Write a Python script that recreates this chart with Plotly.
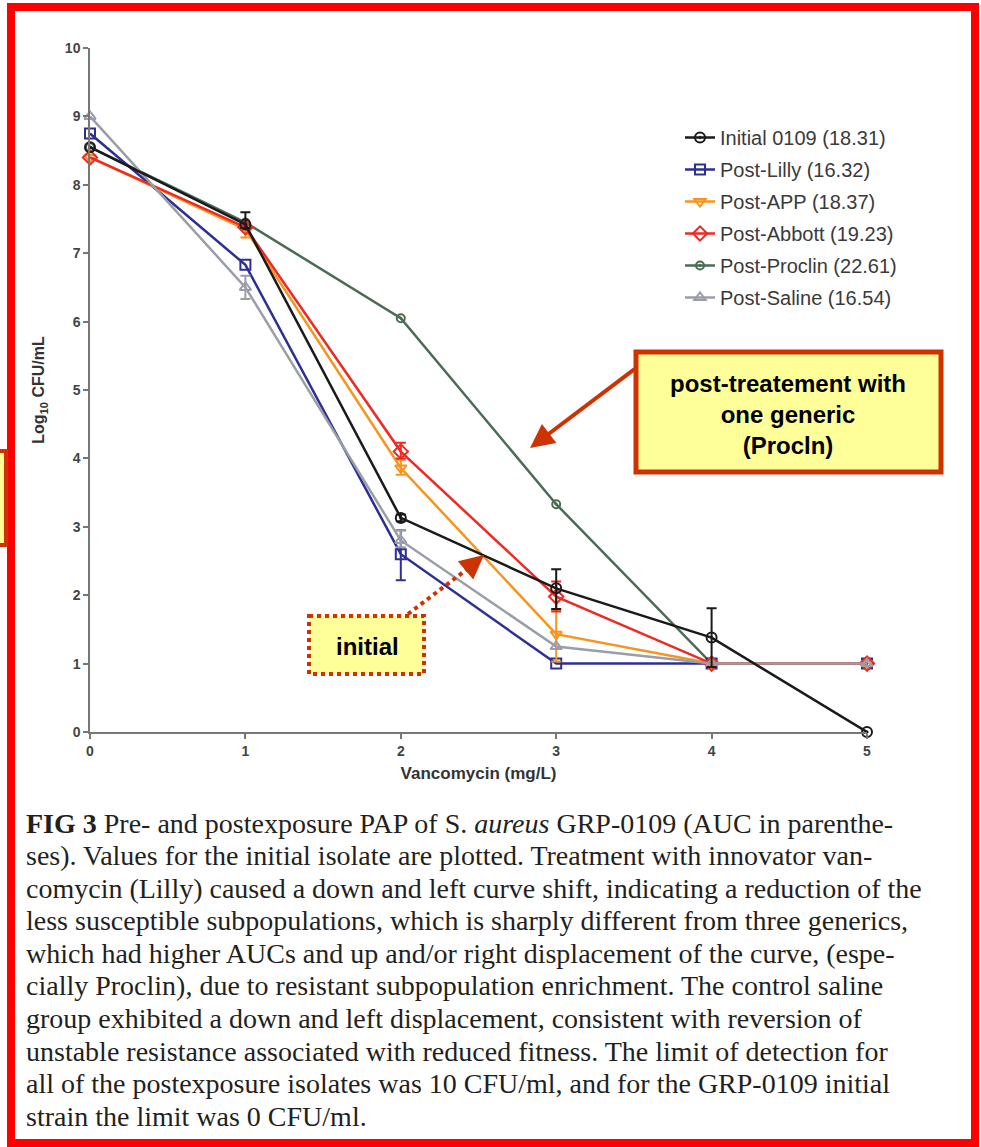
import plotly.graph_objects as go

# ---------------- data ----------------
conc = [0, 1, 2, 3, 4, 5]

series_names = ["Initial 0109 (18.31)", "Post-Lilly (16.32)", "Post-APP (18.37)",
                "Post-Abbott (19.23)", "Post-Proclin (22.61)", "Post-Saline (16.54)"]

initial_vals = [8.55, 7.42, 3.13, 2.10, 1.38, 0.0]
lilly_vals = [8.75, 6.83, 2.60, 1.00, 1.00, 1.00]
app_vals = [8.40, 7.35, 3.86, 1.43, 1.00, 1.00]
abbott_vals = [8.40, 7.38, 4.10, 1.98, 1.00, 1.00]
proclin_vals = [8.55, 7.45, 6.05, 3.33, 1.00, 1.00]
saline_vals = [9.00, 6.50, 2.80, 1.25, 1.00, 1.00]

initial_err_plus = [0, 0.18, 0.05, 0.28, 0.43, 0]
initial_err_minus = [0, 0.05, 0.05, 0.30, 0.43, 0]
lilly_err_plus = [0, 0, 0.35, 0, 0, 0]
lilly_err_minus = [0, 0, 0.38, 0, 0, 0]
app_err_plus = [0, 0, 0.12, 0.35, 0, 0]
app_err_minus = [0, 0.12, 0.10, 0.40, 0, 0]
abbott_err_plus = [0, 0, 0.13, 0.22, 0, 0]
abbott_err_minus = [0, 0, 0.10, 0.22, 0, 0]
proclin_err_plus = [0, 0, 0, 0, 0, 0]
proclin_err_minus = [0, 0, 0, 0, 0, 0]
saline_err_plus = [0, 0.17, 0.15, 0, 0, 0]
saline_err_minus = [0, 0.17, 0.10, 0, 0, 0]

y_ticks = [0, 1, 2, 3, 4, 5, 6, 7, 8, 9, 10]
x_ticks = [0, 1, 2, 3, 4, 5]

caption_lines = [
    "<b>FIG 3</b> Pre- and postexposure PAP of S. <i>aureus</i> GRP-0109 (AUC in parenthe-",
    "ses). Values for the initial isolate are plotted. Treatment with innovator van-",
    "comycin (Lilly) caused a down and left curve shift, indicating a reduction of the",
    "less susceptible subpopulations, which is sharply different from three generics,",
    "which had higher AUCs and up and/or right displacement of the curve, (espe-",
    "cially Proclin), due to resistant subpopulation enrichment. The control saline",
    "group exhibited a down and left displacement, consistent with reversion of",
    "unstable resistance associated with reduced fitness. The limit of detection for",
    "all of the postexposure isolates was 10 CFU/ml, and for the GRP-0109 initial",
    "strain the limit was 0 CFU/ml.",
]

# ---------------- styling ----------------
W, H = 981, 1147
L, R, T, B = 90, 867, 48, 732  # plot area pixels


def px(x):
    return (x - L) / (R - L)


def py(y):
    return (B - y) / (B - T)


styles = {
    "Initial 0109 (18.31)": dict(color="#1a1a1a", symbol="circle-open-dot", size=10),
    "Post-Lilly (16.32)": dict(color="#2e2f96", symbol="square-open", size=10),
    "Post-APP (18.37)": dict(color="#f7941d", symbol="triangle-down-open", size=10),
    "Post-Abbott (19.23)": dict(color="#ee2a24", symbol="diamond-open", size=11),
    "Post-Proclin (22.61)": dict(color="#4b6b55", symbol="circle-open-dot", size=8),
    "Post-Saline (16.54)": dict(color="#9a9ea8", symbol="triangle-up-open", size=10),
}

data = {
    "Initial 0109 (18.31)": (initial_vals, initial_err_plus, initial_err_minus),
    "Post-Lilly (16.32)": (lilly_vals, lilly_err_plus, lilly_err_minus),
    "Post-APP (18.37)": (app_vals, app_err_plus, app_err_minus),
    "Post-Abbott (19.23)": (abbott_vals, abbott_err_plus, abbott_err_minus),
    "Post-Proclin (22.61)": (proclin_vals, proclin_err_plus, proclin_err_minus),
    "Post-Saline (16.54)": (saline_vals, saline_err_plus, saline_err_minus),
}

draw_order = ["Post-Proclin (22.61)", "Post-Lilly (16.32)", "Post-APP (18.37)",
              "Post-Abbott (19.23)", "Post-Saline (16.54)", "Initial 0109 (18.31)"]

fig = go.Figure()

for name in draw_order:
    vals, ep, em = data[name]
    st = styles[name]
    # error bars only where present
    ex = [c for c, a, b in zip(conc, ep, em) if a > 0 or b > 0]
    ey = [v for v, a, b in zip(vals, ep, em) if a > 0 or b > 0]
    eplus = [a for a, b in zip(ep, em) if a > 0 or b > 0]
    eminus = [b for a, b in zip(ep, em) if a > 0 or b > 0]
    if ex:
        fig.add_trace(go.Scatter(
            x=ex, y=ey, mode="markers", showlegend=False, hoverinfo="skip",
            marker=dict(size=2, opacity=0),
            error_y=dict(type="data", symmetric=False, array=eplus, arrayminus=eminus,
                         color=st["color"], thickness=2, width=5),
            cliponaxis=False,
        ))
    fig.add_trace(go.Scatter(
        x=conc, y=vals, mode="lines+markers", name=name,
        legendrank=series_names.index(name) + 1,
        legendgroup=name,
        line=dict(color=st["color"], width=2.5),
        marker=dict(symbol=st["symbol"], size=st["size"], color=st["color"],
                    line=dict(width=2, color=st["color"])),
        cliponaxis=False,
    ))

axis_font = dict(family="Liberation Sans, Arial, sans-serif", size=14, color="#444444", weight="bold")

fig.update_layout(
    width=W, height=H,
    margin=dict(l=L, r=W - R, t=T, b=H - B),
    paper_bgcolor="white",
    plot_bgcolor="white",
    font=dict(family="Liberation Sans, Arial, sans-serif", color="#333333"),
    showlegend=True,
    legend=dict(
        x=px(680), y=py(118), xanchor="left", yanchor="top",
        font=dict(family="Liberation Sans, Arial, sans-serif", size=20, color="#3a3a3a"),
        tracegroupgap=3, itemwidth=30, bgcolor="rgba(0,0,0,0)",
    ),
    xaxis=dict(
        range=[0, 5], tickvals=x_ticks, ticktext=[str(t) for t in x_ticks],
        showline=True, linecolor="#777777", linewidth=1.5,
        ticks="outside", ticklen=5, tickcolor="#777777", tickwidth=1.5,
        showgrid=False, zeroline=False, tickfont=axis_font,
        title=dict(text="<b>Vancomycin (mg/L)</b>", font=dict(size=17, color="#333333"), standoff=10),
    ),
    yaxis=dict(
        range=[0, 10], tickvals=y_ticks, ticktext=[str(t) for t in y_ticks],
        showline=True, linecolor="#777777", linewidth=1.5,
        ticks="outside", ticklen=5, tickcolor="#777777", tickwidth=1.5,
        showgrid=False, zeroline=False, tickfont=axis_font,
        title=dict(text="<b>Log<sub>10</sub> CFU/mL</b>", font=dict(size=16, color="#333333"), standoff=16),
    ),
)

shapes = []
annotations = []

# outer red frame
shapes.append(dict(type="rect", xref="paper", yref="paper",
                   x0=px(11), x1=px(975), y0=py(7), y1=py(1143),
                   line=dict(color="#ff0000", width=8), fillcolor="rgba(0,0,0,0)", layer="above"))

# partial yellow box at the left edge (cut off by the crop)
shapes.append(dict(type="rect", xref="paper", yref="paper",
                   x0=px(-20), x1=px(6), y0=py(451), y1=py(545),
                   line=dict(color="#cc3300", width=4), fillcolor="#ffff99", layer="above"))

# Proclin callout box
shapes.append(dict(type="rect", xref="paper", yref="paper",
                   x0=px(636), x1=px(941), y0=py(352), y1=py(472),
                   line=dict(color="#cc3300", width=5), fillcolor="#ffff99", layer="above"))
annotations.append(dict(xref="paper", yref="paper", x=px(788), y=py(414),
                        xanchor="center", yanchor="middle",
                        text="<b>post-treatement with<br>one generic<br>(Procln)</b>",
                        showarrow=False, align="center",
                        font=dict(family="Liberation Sans, Arial, sans-serif", size=24, color="black")))
# arrow from callout
annotations.append(dict(xref="paper", yref="paper", x=px(530), y=py(448),
                        ax=636 - 530, ay=368 - 448, axref="pixel", ayref="pixel",
                        text="", showarrow=True, arrowhead=2, arrowsize=1.2, arrowwidth=4,
                        arrowcolor="#cc3300"))

# "initial" dotted box
shapes.append(dict(type="rect", xref="paper", yref="paper",
                   x0=px(309), x1=px(424), y0=py(616), y1=py(674),
                   line=dict(color="#cc3300", width=4, dash="dot"), fillcolor="#ffff99", layer="above"))
annotations.append(dict(xref="paper", yref="paper", x=px(367), y=py(646),
                        xanchor="center", yanchor="middle",
                        text="<b>initial</b>", showarrow=False,
                        font=dict(family="Liberation Sans, Arial, sans-serif", size=24, color="black")))
shapes.append(dict(type="line", xref="paper", yref="paper",
                   x0=px(408), y0=py(614), x1=px(470), y1=py(567),
                   line=dict(color="#cc3300", width=4, dash="dot"), layer="above"))
annotations.append(dict(xref="paper", yref="paper", x=px(484), y=py(555),
                        ax=466 - 484, ay=570 - 555, axref="pixel", ayref="pixel",
                        text="", showarrow=True, arrowhead=2, arrowsize=1.2, arrowwidth=4,
                        arrowcolor="#cc3300"))

# caption
for i, line in enumerate(caption_lines):
    annotations.append(dict(xref="paper", yref="paper", x=px(24), y=py(823 + i * 32.6),
                            xanchor="left", yanchor="middle", text=line, showarrow=False,
                            align="left",
                            font=dict(family="Liberation Serif, Times New Roman, serif", size=28,
                                      color="#231f20")))

fig.update_layout(shapes=shapes, annotations=annotations)

fig.write_html("out.html")
